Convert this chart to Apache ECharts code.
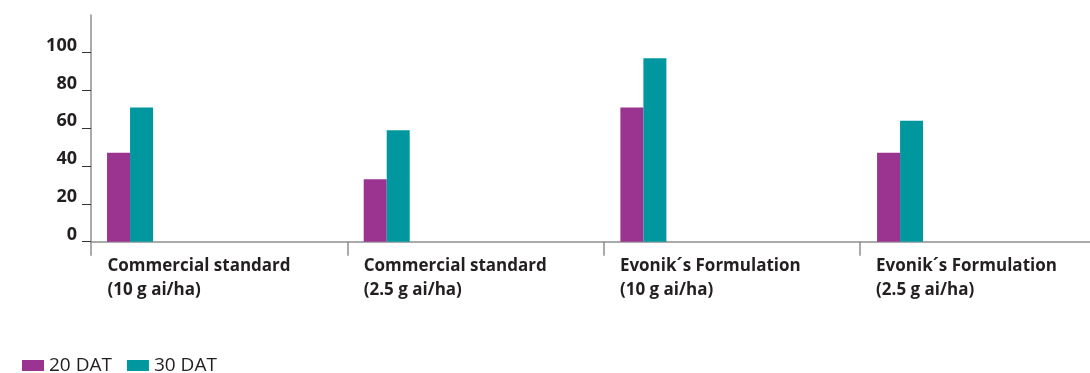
<!DOCTYPE html>
<html>
<head>
<meta charset="utf-8">
<script src="https://cdn.jsdelivr.net/npm/echarts@6/dist/echarts.min.js"></script>
<style>
html,body{margin:0;padding:0;background:#fff;}
#chart{width:1090px;height:373px;}
</style>
</head>
<body>
<div id="chart"></div>
<script>
const categories = [
  'Commercial standard\n(10 g ai/ha)',
  'Commercial standard\n(2.5 g ai/ha)',
  'Evonik\u00b4s Formulation\n(10 g ai/ha)',
  'Evonik\u00b4s Formulation\n(2.5 g ai/ha)'
];
const seriesNames = ['20 DAT', '30 DAT'];
const dat20 = [47, 33, 71, 47];
const dat30 = [71, 59, 97, 64];
const yTicks = [0, 20, 40, 60, 80, 100];
const categoryBoundaries = [0, 1, 2, 3];

const PURPLE = '#9b3390';
const TEAL = '#00979f';
const AXIS = '#8f8f8f';
const TEXT = '#231f20';
const FONT = '"Open Sans", sans-serif';

const TOP = 14.9, BOTTOM = 131.3;
const CAT_W = 256.25;

const chart = echarts.init(document.getElementById('chart'));
chart.setOption({
  animation: false,
  backgroundColor: '#fff',
  textStyle: { fontFamily: FONT },
  grid: [
    { left: 91, top: TOP, bottom: BOTTOM, right: 0, containLabel: false },
    { left: 1.7, top: TOP, bottom: BOTTOM, width: 1026.7, containLabel: false },
    { left: 107.5, top: TOP, bottom: BOTTOM, width: 768.6, containLabel: false }
  ],
  legend: {
    left: 17, top: 351,
    itemWidth: 22, itemHeight: 11, itemGap: 15,
    icon: 'rect',
    data: seriesNames,
    textStyle: { fontFamily: FONT, fontSize: 19, color: TEXT }
  },
  xAxis: [
    {
      gridIndex: 0, type: 'value', min: 0, max: (1090 - 91) / CAT_W, interval: 1,
      axisLine: { show: true, lineStyle: { color: AXIS, width: 1.5 } },
      axisTick: { show: true, length: 14, customValues: categoryBoundaries, lineStyle: { color: AXIS, width: 1.5 } },
      axisLabel: { show: false },
      splitLine: { show: false }
    },
    {
      gridIndex: 1, type: 'category', data: categories, boundaryGap: true,
      show: false
    },
    {
      gridIndex: 2, type: 'category', data: categories, boundaryGap: false,
      axisLine: { show: false }, axisTick: { show: false }, splitLine: { show: false },
      axisLabel: {
        show: true, interval: 0, align: 'left', margin: 12,
        fontFamily: FONT, fontSize: 17, fontWeight: 'bold', color: TEXT, lineHeight: 24,
        hideOverlap: false
      }
    }
  ],
  yAxis: [
    {
      gridIndex: 0, type: 'value', min: 0, max: 120, interval: 20,
      axisLine: { show: true, lineStyle: { color: AXIS, width: 1.5 } },
      axisTick: { show: true, length: 9, customValues: yTicks, lineStyle: { color: '#333', width: 1 } },
      axisLabel: {
        show: true, customValues: yTicks, margin: 14,
        fontFamily: FONT, fontSize: 18, fontWeight: 'bold', color: TEXT,
        verticalAlign: 'bottom', lineHeight: 14
      },
      splitLine: { show: false }
    },
    { gridIndex: 1, type: 'value', min: 0, max: 120, interval: 20, show: false, splitLine: { show: false } },
    { gridIndex: 2, type: 'value', min: 0, max: 120, interval: 20, show: false, splitLine: { show: false } }
  ],
  series: [
    {
      name: seriesNames[0], type: 'bar', xAxisIndex: 1, yAxisIndex: 1,
      data: dat20, barWidth: 23, barGap: '0%',
      itemStyle: { color: PURPLE }
    },
    {
      name: seriesNames[1], type: 'bar', xAxisIndex: 1, yAxisIndex: 1,
      data: dat30, barWidth: 23, barGap: '0%',
      itemStyle: { color: TEAL }
    }
  ]
});
</script>
</body>
</html>
